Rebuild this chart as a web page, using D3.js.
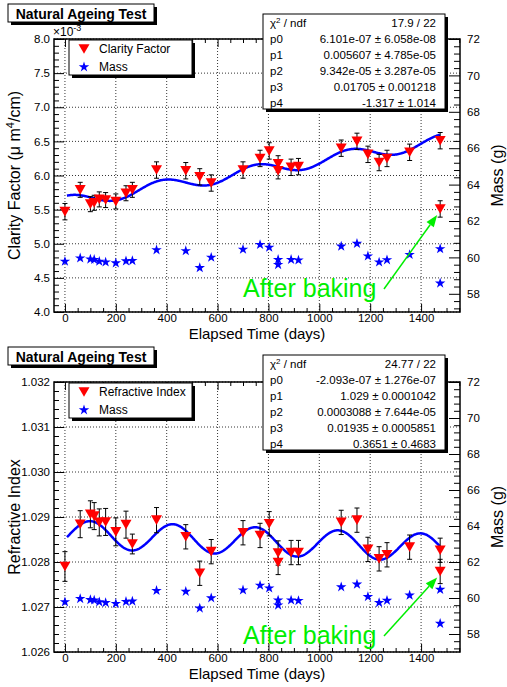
<!DOCTYPE html>
<html>
<head>
<meta charset="utf-8">
<script src="https://cdn.jsdelivr.net/npm/d3@7"></script>
<style>
  body { margin: 0; background: #fff; }
  svg text { font-family: "Liberation Sans", Arial, Helvetica, sans-serif; }
</style>
</head>
<body>
<svg id="chart" width="507" height="687"></svg>
<script>
// ---- measurement data -------------------------------------------------
// elapsed time of each measurement (days); the last entry is the sample after baking
const days = [0, 60, 100, 115, 135, 160, 200, 240, 265, 360, 475, 530, 575, 700,
              767, 803, 838, 838, 889, 918, 1086, 1148, 1191, 1235, 1266, 1355, 1475, 1475];

// clarity factor (units of 1e-3 µm^4/cm) and its uncertainty
const clarity = [5.47, 5.79, 5.58, 5.60, 5.65, 5.64, 5.62, 5.74, 5.79, 6.08, 6.07, 5.98, 5.89, 6.08,
                 6.25, 6.36, 6.17, 6.07, 6.12, 6.13, 6.40, 6.50, 6.31, 6.19, 6.25, 6.34, 6.51, 5.51];
const clarityErr = [0.12, 0.11, 0.11, 0.11, 0.11, 0.11, 0.11, 0.11, 0.11, 0.12, 0.12, 0.12, 0.12, 0.12,
                    0.12, 0.12, 0.12, 0.12, 0.12, 0.12, 0.12, 0.12, 0.12, 0.12, 0.12, 0.12, 0.12, 0.12];

// refractive index and its uncertainty
const refIndex = [1.02790, 1.02884, 1.02906, 1.02902, 1.02888, 1.02889, 1.02867, 1.02883, 1.02840,
                  1.02893, 1.02856, 1.02775, 1.02823, 1.02865, 1.02859, 1.02885, 1.02820, 1.02799,
                  1.02821, 1.02821, 1.02888, 1.02893, 1.02828, 1.02807, 1.02816, 1.02833, 1.02826, 1.02779];
const refIndexErr = [0.00033, 0.00030, 0.00030, 0.00030, 0.00030, 0.00030, 0.00031, 0.00030, 0.00022,
                     0.00028, 0.00027, 0.00027, 0.00027, 0.00027, 0.00027, 0.00027, 0.00027, 0.00027,
                     0.00027, 0.00027, 0.00027, 0.00027, 0.00027, 0.00027, 0.00027, 0.00027, 0.00027, 0.00027];

// sample mass (g)
const mass = [59.78, 59.96, 59.90, 59.88, 59.78, 59.74, 59.69, 59.80, 59.82, 60.41, 60.36, 59.43, 60.00, 60.44,
              60.70, 60.55, 59.88, 59.60, 59.88, 59.85, 60.61, 60.76, 60.07, 59.74, 59.86, 60.15, 60.47, 58.58];

// fit: p1 + p0*t + p2*sin(p3*t - p4)
const clarityFitPar = [6.101e-07, 0.005607, 9.342e-05, 0.01705, -1.317];
const clarityFitErr = [6.058e-08, 4.785e-05, 3.287e-05, 0.001218, 1.014];
const clarityChi2 = [17.9, 22];
const refFitPar = [-2.093e-07, 1.02862, 3.088e-04, 0.01935, 0.3651];
const refFitErr = [1.276e-07, 1.042e-04, 7.644e-05, 5.851e-04, 0.4683];
const refChi2 = [24.77, 22];

// axis ticks
const timeTicks = [0, 200, 400, 600, 800, 1000, 1200, 1400];
const clarityTicks = [4.0, 4.5, 5.0, 5.5, 6.0, 6.5, 7.0, 7.5, 8.0];
const refTicks = [1.026, 1.027, 1.028, 1.029, 1.030, 1.031, 1.032];
const massTicks = [58, 60, 62, 64, 66, 68, 70, 72];

// ---- helpers -----------------------------------------------------------
const svg = d3.select("#chart");
const FONT = '"Liberation Sans", Arial, Helvetica, sans-serif';
const GREEN = "#00ee00";

// printf("%.4g") style number formatting
function g4(v) {
  if (v === 0) return "0";
  let e = Math.floor(Math.log10(Math.abs(v)));
  if (e < -4 || e >= 4) {
    let ms = (v / Math.pow(10, e)).toFixed(3);
    if (Math.abs(+ms) >= 10) { e += 1; ms = (v / Math.pow(10, e)).toFixed(3); }
    ms = ms.replace(/\.?0+$/, "");
    return ms + "e" + (e < 0 ? "-" : "+") + String(Math.abs(e)).padStart(2, "0");
  }
  let s = v.toPrecision(4);
  if (s.indexOf(".") >= 0) s = s.replace(/\.?0+$/, "");
  return s;
}

function fitFn(p, t) { return p[1] + p[0] * t + p[2] * Math.sin(p[3] * t - p[4]); }

function minorTicks(lo, hi, step, majors) {
  const out = [];
  const n = Math.round((hi - lo) / step);
  for (let i = 0; i <= n; i++) {
    const v = +(lo + i * step).toFixed(6);
    if (!majors.some(m => Math.abs(m - v) < step * 1e-3)) out.push(v);
  }
  return out;
}

const triDown = "M-5.5,-4.8L5.5,-4.8L0,4.8Z";
const star = d3.symbol(d3.symbolStar, 34)();

function boxWithShadow(g, x0, y0, w, h) {
  g.append("rect").attr("x", x0 + 3).attr("y", y0 + 3).attr("width", w).attr("height", h).attr("fill", "#000");
  g.append("rect").attr("x", x0).attr("y", y0).attr("width", w).attr("height", h)
    .attr("fill", "#fff").attr("stroke", "#000").attr("stroke-width", 1);
}

const x = d3.scaleLinear().domain([-43, 1553]).range([54, 460]);
const massRange = [57, 72];

function styleAxis(g, size) {
  g.select(".domain").remove();
  g.attr("font-family", null).attr("font-size", null);
  g.selectAll("text").attr("font-family", FONT).attr("font-size", size).attr("fill", "#000");
  g.selectAll("line").attr("stroke", "#000");
}

function drawPanel(o) {
  const top = o.top, bottom = o.bottom, left = 54, right = 460;
  const y = d3.scaleLinear().domain(o.yDomain).range([bottom, top]);
  const ym = d3.scaleLinear().domain(massRange).range([bottom, top]);
  const g = svg.append("g");

  // grid
  const grid = g.append("g").attr("stroke", "#000").attr("stroke-width", 0.8).attr("stroke-dasharray", "1,2");
  grid.selectAll(".gx").data(timeTicks).join("line")
    .attr("x1", d => x(d)).attr("x2", d => x(d)).attr("y1", top).attr("y2", bottom);
  grid.selectAll(".gy").data(o.yTicks).join("line")
    .attr("x1", left).attr("x2", right).attr("y1", d => y(d)).attr("y2", d => y(d));

  // axes (ticks drawn towards the inside of the frame)
  const yMinor = minorTicks(o.yDomain[0], o.yDomain[1], o.yMinorStep, o.yTicks);
  styleAxis(g.append("g").attr("transform", `translate(${left},0)`)
    .call(d3.axisLeft(y).tickValues(yMinor).tickSize(-5).tickFormat("")), 11);
  styleAxis(g.append("g").attr("transform", `translate(${left},0)`)
    .call(d3.axisLeft(y).tickValues(o.yTicks).tickSize(-10).tickPadding(4).tickFormat(o.yFmt)), 11.5);

  const tMinor = minorTicks(0, 1550, 50, timeTicks);
  styleAxis(g.append("g").attr("transform", `translate(0,${bottom})`)
    .call(d3.axisBottom(x).tickValues(tMinor).tickSize(-4).tickFormat("")), 11);
  styleAxis(g.append("g").attr("transform", `translate(0,${bottom})`)
    .call(d3.axisBottom(x).tickValues(timeTicks).tickSize(-8).tickPadding(2).tickFormat(d3.format("d"))), 11.5);
  styleAxis(g.append("g").attr("transform", `translate(0,${top})`)
    .call(d3.axisTop(x).tickValues(tMinor).tickSize(-4).tickFormat("")), 11);
  styleAxis(g.append("g").attr("transform", `translate(0,${top})`)
    .call(d3.axisTop(x).tickValues(timeTicks).tickSize(-8).tickFormat("")), 11);

  const mMinor = minorTicks(57.2, 72, 0.4, massTicks);
  styleAxis(g.append("g").attr("transform", `translate(${right},0)`)
    .call(d3.axisRight(ym).tickValues(mMinor).tickSize(-6).tickFormat("")), 11);
  styleAxis(g.append("g").attr("transform", `translate(${right},0)`)
    .call(d3.axisRight(ym).tickValues(massTicks).tickSize(-11).tickPadding(7).tickFormat(d3.format("d"))), 11.5);

  // frame
  g.append("rect").attr("x", left).attr("y", top).attr("width", right - left).attr("height", bottom - top)
    .attr("fill", "none").attr("stroke", "#000").attr("stroke-width", 1.5);

  // axis titles
  g.append("text").attr("x", (left + right) / 2).attr("y", bottom + 27)
    .attr("text-anchor", "middle").attr("font-size", 15).text("Elapsed Time (days)");
  const yt = g.append("text").attr("transform", `translate(19.5,${(top + bottom) / 2}) rotate(-90)`)
    .attr("text-anchor", "middle").attr("font-size", 16);
  o.yTitle(yt);
  g.append("text").attr("transform", `translate(503,${(top + bottom) / 2}) rotate(-90)`)
    .attr("text-anchor", "middle").attr("font-size", 16).text("Mass (g)");

  // fit curve
  const tFit = d3.range(8, 1476, 2);
  g.append("path").datum(tFit)
    .attr("d", d3.line().x(t => x(t)).y(t => y(o.fitScale * fitFn(o.fitPar, t))))
    .attr("fill", "none").attr("stroke", "#0000ff").attr("stroke-width", 2.5);

  // error bars
  const eb = g.append("g").attr("stroke", "#000").attr("stroke-width", 1);
  days.forEach((t, i) => {
    const v = o.vals[i], e = o.errs[i];
    eb.append("line").attr("x1", x(t)).attr("x2", x(t)).attr("y1", y(v - e)).attr("y2", y(v + e));
    eb.append("line").attr("x1", x(t) - 2.5).attr("x2", x(t) + 2.5).attr("y1", y(v - e)).attr("y2", y(v - e));
    eb.append("line").attr("x1", x(t) - 2.5).attr("x2", x(t) + 2.5).attr("y1", y(v + e)).attr("y2", y(v + e));
  });

  // mass stars
  g.append("g").selectAll("path").data(days).join("path")
    .attr("d", star)
    .attr("transform", (t, i) => `translate(${x(t)},${ym(mass[i])})`)
    .attr("fill", "#0000ff");

  // measurement triangles
  g.append("g").selectAll("path").data(days).join("path")
    .attr("d", triDown)
    .attr("transform", (t, i) => `translate(${x(t)},${y(o.vals[i])})`)
    .attr("fill", "#ff0000");

  // exponent label
  if (o.expLabel) {
    const ex = g.append("text").attr("x", 53).attr("y", top - 3).attr("font-size", 12);
    ex.append("tspan").text("×10");
    ex.append("tspan").attr("dy", -5).attr("font-size", 9).text("-3");
  }

  // title box
  const tb = g.append("g");
  boxWithShadow(tb, 8, o.titleY, 146, 18);
  tb.append("text").attr("x", 81).attr("y", o.titleY + 14.5).attr("text-anchor", "middle")
    .attr("font-size", 14).attr("font-weight", "bold").text("Natural Ageing Test");

  // legend
  const lg = g.append("g");
  boxWithShadow(lg, 69, o.legendY, 123, 35);
  lg.append("path").attr("d", triDown).attr("transform", `translate(84,${o.legendY + 9})`).attr("fill", "#ff0000");
  lg.append("text").attr("x", 99).attr("y", o.legendY + 13).attr("font-size", 12).text(o.legendLabel);
  lg.append("path").attr("d", star).attr("transform", `translate(84,${o.legendY + 27})`).attr("fill", "#0000ff");
  lg.append("text").attr("x", 99).attr("y", o.legendY + 31).attr("font-size", 12).text("Mass");

  // fit statistics box
  const sb = g.append("g");
  boxWithShadow(sb, 263, o.statsY, 182, 95);
  const rowY = k => o.statsY + 13 + k * 15.9;
  const chiLab = sb.append("text").attr("x", 270).attr("y", rowY(0)).attr("font-size", 11.5);
  chiLab.append("tspan").text("χ");
  chiLab.append("tspan").attr("dy", -4).attr("font-size", 8).text("2");
  chiLab.append("tspan").attr("dy", 4).text(" / ndf");
  sb.append("text").attr("x", 436).attr("y", rowY(0)).attr("text-anchor", "end").attr("font-size", 11.5)
    .text(`${g4(o.chi2[0])} / ${o.chi2[1]}`);
  o.fitPar.forEach((p, k) => {
    sb.append("text").attr("x", 270).attr("y", rowY(k + 1)).attr("font-size", 11.5).text("p" + k);
    sb.append("text").attr("x", 436).attr("y", rowY(k + 1)).attr("text-anchor", "end").attr("font-size", 11.5)
      .text(`${g4(p)} ± ${g4(o.fitErr[k])}`);
  });

  // annotation pointing at the baked sample
  const last = days.length - 1;
  const tipX = x(days[last]) - 3, tipY = y(o.vals[last]) + 6;
  const startX = 384, startY = o.noteBase - 8;
  const ang = Math.atan2(tipY - startY, tipX - startX);
  const hl = 12, hw = 4.5;
  const bx = tipX - hl * Math.cos(ang), by = tipY - hl * Math.sin(ang);
  g.append("line").attr("x1", startX).attr("y1", startY).attr("x2", bx).attr("y2", by)
    .attr("stroke", GREEN).attr("stroke-width", 1.5);
  g.append("path")
    .attr("d", `M${tipX},${tipY}L${bx - hw * Math.sin(ang)},${by + hw * Math.cos(ang)}L${bx + hw * Math.sin(ang)},${by - hw * Math.cos(ang)}Z`)
    .attr("fill", GREEN);
  g.append("text").attr("x", 243).attr("y", o.noteBase).attr("font-size", 25).attr("fill", GREEN)
    .text("After baking");
}

drawPanel({
  top: 39, bottom: 312, yDomain: [4, 8], yTicks: clarityTicks, yMinorStep: 0.1,
  yFmt: d3.format(".1f"), vals: clarity, errs: clarityErr,
  fitPar: clarityFitPar, fitErr: clarityFitErr, fitScale: 1000, chi2: clarityChi2,
  legendLabel: "Clarity Factor", expLabel: true,
  titleY: 4, legendY: 40, statsY: 14, noteBase: 297,
  yTitle: t => {
    t.append("tspan").text("Clarity  Factor (μ m");
    t.append("tspan").attr("dy", -6).attr("font-size", 11).text("4");
    t.append("tspan").attr("dy", 6).text("/cm)");
  }
});

drawPanel({
  top: 382, bottom: 652, yDomain: [1.026, 1.032], yTicks: refTicks, yMinorStep: 0.0002,
  yFmt: d3.format(".3f"), vals: refIndex, errs: refIndexErr,
  fitPar: refFitPar, fitErr: refFitErr, fitScale: 1, chi2: refChi2,
  legendLabel: "Refractive Index", expLabel: false,
  titleY: 347, legendY: 383, statsY: 355, noteBase: 644,
  yTitle: t => t.text("Refractive Index")
});
</script>
</body>
</html>
